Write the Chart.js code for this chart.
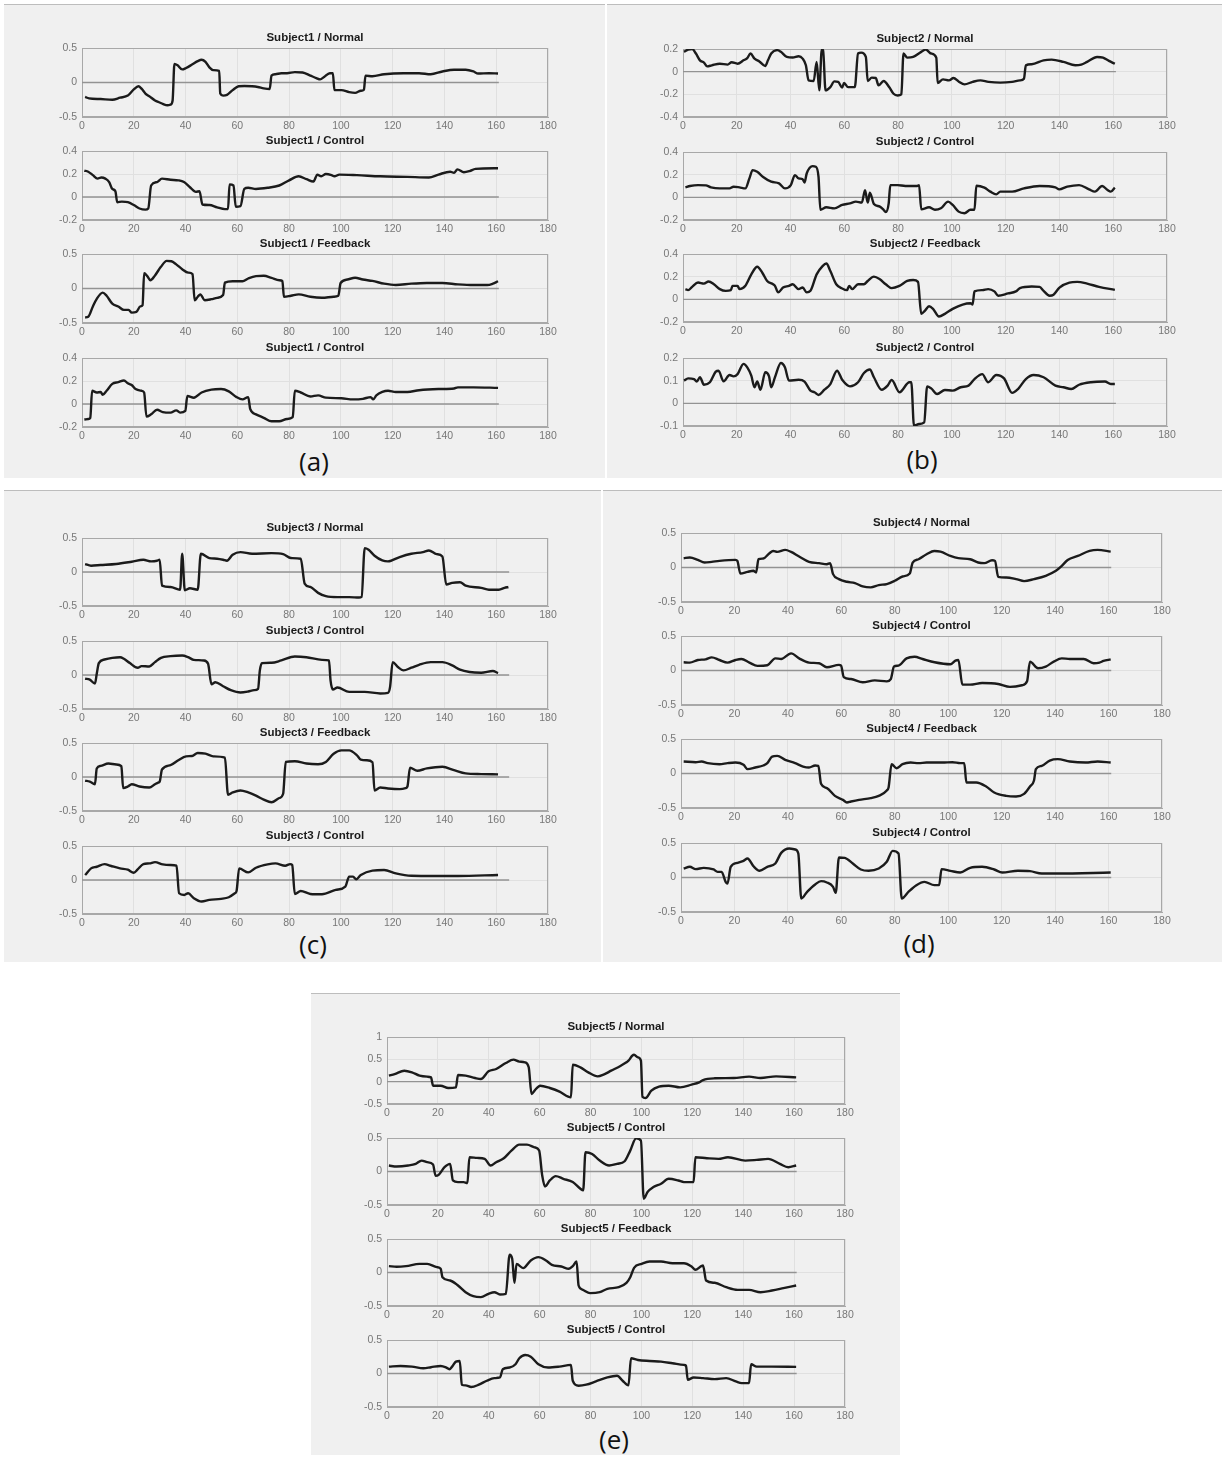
<!DOCTYPE html>
<html>
<head>
<meta charset="utf-8">
<script src="https://cdn.jsdelivr.net/npm/chart.js@4.4.1/dist/chart.umd.min.js"></script>
<style>
  body { margin: 0; width: 1225px; height: 1458px; background: #fff; position: relative; overflow: hidden; }
  .panel { position: absolute; background: #f0f0f0; border-top: 1px solid #bdbdbd; box-sizing: border-box; }
  .plab { position: absolute; font-family: 'Open Sans', sans-serif; font-size: 26px; color: #111; line-height: 1; transform: translate(-50%, -50%); }
  canvas { position: absolute; }
</style>
</head>
<body>
<script>
// tick values
var xTickValues = [0, 20, 40, 60, 80, 100, 120, 140, 160, 180];
var yTicksHalf = [-0.5, 0, 0.5];
var yTicksFifth = [-0.2, 0, 0.2, 0.4];
var yTicksS2Normal = [-0.4, -0.2, 0, 0.2];
var yTicksTenth = [-0.1, 0, 0.1, 0.2];
var yTicksS5Normal = [-0.5, 0, 0.5, 1];

// series, [sample, value]
var s1Normal = [[1.2,-0.21],[2.7,-0.23],[7.2,-0.24],[11.7,-0.25],[14.7,-0.22],[17.7,-0.19],[20,-0.1],[21.8,-0.055],[23,-0.09],[24.5,-0.16],[26,-0.2],[28.2,-0.26],[30,-0.29],[31.2,-0.31],[33,-0.33],[34.2,-0.32],[35,-0.26],[35.7,0.27],[36.9,0.25],[38.7,0.19],[40.2,0.21],[42.5,0.26],[44.7,0.31],[46.2,0.33],[47.7,0.3],[49.2,0.22],[50.7,0.18],[53,0.17],[53.4,-0.16],[54.5,-0.19],[56,-0.18],[58.2,-0.11],[60.5,-0.055],[62.7,-0.05],[65.7,-0.055],[67.9,-0.065],[70.2,-0.085],[72.5,-0.095],[73.2,0.1],[74.7,0.12],[77,0.135],[79.2,0.135],[82.2,0.15],[85.2,0.145],[88.2,0.1],[90.5,0.065],[92,0.045],[93.5,0.08],[95.7,0.135],[96.9,0.135],[97.5,-0.11],[100.2,-0.11],[103.2,-0.14],[105.5,-0.15],[107.7,-0.12],[108.9,-0.105],[109.5,0.1],[112.2,0.09],[116.7,0.12],[124.2,0.135],[130.2,0.135],[134.7,0.12],[139.2,0.16],[143.7,0.185],[148.2,0.185],[151.2,0.16],[153,0.13],[157.2,0.135],[160.7,0.13]];
var s1Control = [[0.9,0.23],[2.4,0.22],[4.2,0.19],[6,0.16],[7.5,0.17],[9,0.16],[10.5,0.13],[11.7,0.07],[12.9,0.05],[13.6,-0.045],[15.4,-0.04],[17.7,-0.045],[20,-0.07],[22.2,-0.1],[24.5,-0.11],[25.6,-0.1],[26.7,0.1],[29,0.13],[30.9,0.16],[34.2,0.15],[37.2,0.145],[39.4,0.13],[41.7,0.085],[44,0.045],[45.4,0.05],[46.5,-0.065],[49.2,-0.07],[52.2,-0.09],[55.2,-0.105],[56.4,-0.105],[57,0.11],[58.5,0.1],[59.4,-0.085],[61.2,-0.08],[62.7,0.07],[64.2,0.08],[67.2,0.07],[71.7,0.08],[76.2,0.1],[80,0.145],[83.7,0.18],[86.7,0.155],[89.4,0.135],[90.9,0.195],[92.4,0.18],[94.2,0.2],[96.4,0.19],[97.5,0.18],[99.4,0.195],[106.2,0.19],[115.2,0.18],[125.7,0.175],[134,0.17],[137.7,0.195],[142.2,0.22],[143.7,0.21],[145,0.24],[147.5,0.215],[149.7,0.225],[152,0.245],[160.7,0.25]];
var s1Feedback = [[1.2,-0.42],[2.4,-0.41],[4.2,-0.26],[5.7,-0.15],[8,-0.06],[9.5,-0.105],[11.7,-0.22],[14,-0.26],[16.2,-0.31],[18,-0.31],[19.2,-0.35],[21,-0.34],[22.5,-0.26],[23.4,-0.24],[24,0.22],[25.2,0.18],[26.4,0.12],[28.2,0.19],[30.4,0.31],[32.7,0.4],[34.5,0.395],[36.4,0.35],[38.7,0.28],[41,0.23],[42.7,0.21],[43.5,-0.17],[44.7,-0.12],[45.7,-0.085],[47.4,-0.17],[50,-0.155],[52.2,-0.135],[54.5,-0.095],[55.2,0.085],[58.2,0.105],[62,0.105],[64.2,0.145],[67.2,0.18],[70.2,0.185],[73.2,0.155],[76.2,0.12],[77.4,0.11],[78,-0.12],[80.7,-0.105],[83.7,-0.085],[88.2,-0.12],[92.7,-0.135],[97.2,-0.12],[99,-0.105],[99.9,0.08],[102.5,0.13],[105.5,0.155],[108.5,0.13],[112.2,0.11],[116.7,0.07],[121.2,0.05],[127.2,0.07],[133.2,0.08],[139.2,0.08],[145.2,0.06],[151.2,0.05],[156.5,0.05],[158.7,0.07],[160.7,0.105]];
var s1Control2 = [[0.9,-0.135],[2.4,-0.13],[3.2,-0.12],[3.9,0.115],[5.7,0.1],[7.2,0.105],[8,0.08],[9.5,0.115],[11.7,0.175],[14,0.19],[16.2,0.205],[17.7,0.18],[19.2,0.165],[20.7,0.13],[23,0.115],[24,0.1],[24.9,-0.11],[26.7,-0.09],[29,-0.05],[31.2,-0.07],[34.2,-0.075],[36.4,-0.055],[37.9,-0.075],[39.9,-0.06],[40.7,0.07],[43.2,0.055],[46.2,0.1],[50,0.125],[53.7,0.13],[56.7,0.11],[59.7,0.06],[62,0.04],[64.2,0.06],[65,-0.045],[67.2,-0.09],[70.2,-0.12],[73.2,-0.15],[76.2,-0.15],[79.2,-0.13],[81.4,-0.115],[82.2,0.115],[84.5,0.1],[88.2,0.065],[91.2,0.075],[94.2,0.055],[100.2,0.05],[104.7,0.04],[108.5,0.045],[111.5,0.06],[112.5,0.04],[113.7,0.075],[116,0.105],[118.2,0.115],[121.2,0.105],[125.7,0.105],[130.2,0.12],[137.7,0.13],[143.7,0.135],[145.2,0.145],[151.2,0.145],[160.7,0.14]];

var s2Normal = [[0.4,0.175],[1.9,0.195],[3.4,0.2],[4.8,0.16],[6.3,0.1],[7.8,0.08],[9,0.047],[10.7,0.056],[13.7,0.07],[16.6,0.062],[18.1,0.083],[20.3,0.07],[22.5,0.1],[23.9,0.12],[25.1,0.16],[26.6,0.115],[28.4,0.09],[30.6,0.05],[31.6,0.1],[32.8,0.16],[35,0.19],[36.4,0.175],[38.6,0.13],[40.8,0.125],[43,0.136],[44.5,0.115],[45.7,0.056],[46.7,-0.077],[48.6,-0.083],[49.7,0.086],[50.7,-0.165],[51.6,0.195],[52.1,0.19],[53,-0.165],[54.8,-0.136],[56.3,-0.086],[57.7,-0.09],[59.2,-0.14],[59.9,-0.1],[61.4,-0.136],[63.9,-0.136],[65.1,0.16],[66.3,0.168],[68,0.13],[68.7,-0.083],[70.2,-0.053],[71.7,-0.056],[72.7,-0.12],[74.6,-0.083],[76.8,-0.14],[78.3,-0.195],[79.8,-0.21],[81.2,-0.2],[82,0.16],[83.4,0.124],[85.6,0.13],[88.6,0.175],[90.3,0.195],[92.3,0.16],[94.2,0.124],[94.7,-0.1],[96.7,-0.068],[98.9,-0.077],[100.6,-0.056],[102.5,-0.086],[104.7,-0.112],[107.7,-0.09],[110.6,-0.077],[113.6,-0.09],[118,-0.097],[122.4,-0.09],[125.3,-0.077],[126.8,-0.062],[127.5,0.056],[129.7,0.065],[134.1,0.1],[137.1,0.106],[141.5,0.086],[145.9,0.056],[148.1,0.062],[150.3,0.086],[154,0.13],[156.2,0.124],[158.4,0.095],[160.6,0.07]];
var s2Control = [[0.9,0.088],[2.6,0.1],[5.6,0.108],[8.5,0.105],[10.4,0.088],[13.7,0.079],[17.3,0.079],[18.8,0.094],[21,0.088],[23.2,0.079],[24.7,0.167],[25.9,0.24],[27.6,0.225],[29.8,0.18],[32.8,0.138],[35.7,0.123],[37.9,0.079],[40.1,0.108],[41.6,0.196],[43,0.167],[44.5,0.16],[45.2,0.13],[46,0.21],[48.2,0.275],[49.4,0.27],[50.4,0.18],[51.1,-0.11],[53.3,-0.088],[56.3,-0.097],[59.2,-0.067],[62.1,-0.053],[64.3,-0.038],[66.5,-0.047],[67.7,0.064],[68.7,-0.047],[69.5,0.04],[71,-0.058],[73.2,-0.082],[74.6,-0.11],[75.4,-0.13],[76.5,-0.053],[77.1,0.108],[79.8,0.108],[82.7,0.1],[87.1,0.1],[87.8,0.108],[88.6,-0.105],[91.5,-0.088],[93.7,-0.11],[95.9,-0.097],[98.6,-0.038],[100.3,-0.067],[102.5,-0.126],[104.7,-0.14],[106.9,-0.11],[108.4,-0.11],[109.1,0.102],[112.1,0.085],[114.3,0.05],[116.5,0.026],[118,0.05],[122.4,0.05],[126.8,0.079],[132.6,0.1],[138.5,0.088],[139.9,0.07],[142.9,0.094],[147.3,0.108],[151,0.07],[153.2,0.05],[155.9,0.1],[157.9,0.064],[159.1,0.05],[160.6,0.085]];
var s2Feedback = [[0.9,0.09],[1.9,0.081],[3.4,0.11],[5.6,0.148],[7.8,0.139],[9.5,0.157],[11.5,0.133],[13.7,0.09],[15.9,0.075],[17.8,0.081],[18.4,0.119],[20.3,0.119],[21,0.09],[23.2,0.119],[25.4,0.22],[27.6,0.287],[29.5,0.235],[31.3,0.162],[33.5,0.133],[34.2,0.119],[35.4,0.061],[37.2,0.104],[39.4,0.119],[40.8,0.133],[43,0.09],[44.5,0.104],[46,0.061],[47.4,0.075],[49.7,0.22],[51.9,0.293],[53.3,0.316],[54.8,0.25],[57,0.133],[59.2,0.096],[61,0.081],[61.8,0.119],[62.9,0.09],[65.1,0.133],[67.3,0.133],[68.7,0.162],[71,0.2],[73.2,0.177],[75.4,0.133],[77.6,0.099],[80.5,0.119],[83.4,0.162],[85.6,0.171],[87.4,0.154],[88.6,-0.128],[90,-0.099],[91.5,-0.061],[93,-0.084],[95.2,-0.151],[97.4,-0.128],[100.3,-0.084],[104,-0.046],[106.9,-0.035],[107.7,-0.046],[108.4,0.07],[111.3,0.081],[113.5,0.09],[115.8,0.07],[117.2,0.032],[120.9,0.052],[123.8,0.07],[125.3,0.099],[129.7,0.113],[132.6,0.11],[134.1,0.075],[136.3,0.032],[137.8,0.041],[140,0.104],[143.7,0.148],[146.6,0.154],[150.3,0.139],[154.7,0.11],[160.6,0.084]];
var s2Control2 = [[0.4,0.1],[1.9,0.11],[4.1,0.107],[5.1,0.096],[6.3,0.115],[7.8,0.082],[10,0.093],[12.2,0.14],[13.2,0.144],[15.1,0.097],[17.3,0.125],[18.8,0.119],[20.3,0.129],[22.5,0.174],[23.9,0.159],[25.4,0.122],[26.6,0.071],[27.6,0.096],[28.8,0.06],[30.6,0.137],[32,0.119],[32.8,0.071],[34.2,0.115],[36.4,0.178],[37.9,0.159],[39.4,0.1],[43,0.104],[45.2,0.096],[47.4,0.056],[48.9,0.049],[50.4,0.037],[52.6,0.06],[54.8,0.085],[57.3,0.144],[59.2,0.104],[62.1,0.075],[65.1,0.093],[67.3,0.134],[69.5,0.149],[71,0.115],[73.9,0.06],[76.1,0.078],[77.6,0.103],[80.5,0.049],[84.2,0.093],[84.9,0.093],[85.9,-0.099],[87.8,-0.091],[89.7,-0.084],[90.8,0.075],[92.3,0.066],[94.5,0.041],[97.4,0.059],[100.3,0.056],[103.3,0.071],[106.2,0.078],[108.4,0.107],[111.3,0.129],[113.5,0.093],[116.5,0.125],[119.4,0.11],[122.4,0.046],[124.6,0.063],[127.5,0.107],[130.4,0.125],[134.1,0.115],[138.5,0.078],[141.5,0.071],[144.4,0.063],[147.3,0.082],[151.7,0.093],[156.9,0.096],[159.1,0.085],[160.6,0.085]];

var s3Normal = [[1.2,0.117],[3.5,0.093],[7.2,0.102],[13.2,0.117],[19.2,0.151],[23.7,0.18],[26.7,0.156],[29,0.166],[30,0.18],[30.9,-0.2],[34.2,-0.22],[37.9,-0.26],[38.7,0.268],[39.7,-0.268],[41.7,-0.24],[44.7,-0.26],[45.9,0.268],[49.2,0.205],[52.2,0.195],[54.5,0.18],[56,0.166],[58.2,0.254],[61.2,0.293],[65.7,0.268],[73.2,0.278],[77.7,0.263],[80.7,0.205],[84.5,0.195],[86,-0.17],[88.2,-0.22],[91.2,-0.307],[94.2,-0.356],[98.7,-0.37],[103.2,-0.37],[107,-0.376],[108,-0.366],[109.2,0.351],[110.7,0.327],[113,0.239],[116,0.17],[118.2,0.156],[122.7,0.22],[127.2,0.268],[131.7,0.293],[134,0.317],[137,0.263],[139.2,0.229],[140.7,-0.185],[143,-0.16],[146,-0.151],[148.2,-0.2],[154.2,-0.234],[157.2,-0.26],[161,-0.26],[163.2,-0.234],[164.7,-0.22]];
var s3Control = [[1.2,-0.053],[3,-0.068],[5,-0.126],[5.7,0.019],[6.5,0.175],[8.7,0.228],[11.7,0.252],[14.7,0.262],[16.2,0.238],[18.5,0.175],[21.5,0.107],[23,0.131],[26,0.126],[28.2,0.189],[30.5,0.252],[34.2,0.277],[38.7,0.286],[41,0.262],[43.2,0.223],[47,0.214],[48.7,0.165],[50,-0.136],[51.5,-0.107],[54.5,-0.165],[57.5,-0.223],[61.2,-0.257],[64.2,-0.243],[66.5,-0.223],[68,-0.204],[68.7,0.068],[69.5,0.175],[73.2,0.18],[77,0.214],[82.2,0.272],[86.7,0.262],[92.7,0.223],[95.4,0.214],[96,-0.078],[96.9,-0.214],[98.7,-0.184],[103.2,-0.248],[109.2,-0.248],[115.2,-0.272],[118.2,-0.262],[119,-0.175],[120,0.189],[122,0.117],[124.2,0.068],[127.2,0.107],[130.2,0.15],[134.7,0.189],[139.2,0.189],[143,0.141],[146,0.078],[149.7,0.044],[154.2,0.034],[158.7,0.058],[160.7,0.029]];
var s3Feedback = [[1.2,-0.053],[3,-0.068],[5,-0.106],[5.7,0.126],[7.2,0.164],[10.2,0.198],[13.2,0.184],[15.2,0.159],[15.9,-0.164],[17.7,-0.14],[19.2,-0.106],[22.2,-0.14],[26,-0.155],[28.2,-0.106],[29.4,-0.082],[30,-0.068],[30.9,0.111],[34.2,0.174],[37.2,0.246],[40.2,0.304],[42.5,0.309],[44.7,0.353],[47.7,0.343],[50.7,0.304],[55.2,0.285],[56.4,-0.261],[58.2,-0.227],[61.2,-0.198],[64.2,-0.227],[67.2,-0.275],[70.2,-0.333],[73.2,-0.372],[76.2,-0.309],[77.7,-0.246],[78.7,0.222],[82.2,0.232],[86.7,0.198],[91.2,0.188],[94.2,0.222],[97.2,0.343],[100.2,0.391],[103.2,0.391],[106.2,0.319],[107.7,0.256],[110,0.246],[112.2,0.217],[113,-0.198],[115.2,-0.155],[118.2,-0.169],[122.7,-0.179],[125,-0.164],[125.7,-0.14],[126.7,0.135],[129.5,0.092],[133.2,0.126],[139.2,0.15],[143.7,0.101],[148.2,0.053],[154.2,0.043],[160.7,0.039]];
var s3Control2 = [[1.2,0.073],[3.5,0.171],[5.7,0.195],[8.7,0.234],[11,0.21],[14.7,0.171],[17.7,0.151],[20,0.107],[21.5,0.156],[23.7,0.234],[26,0.244],[28.2,0.263],[31.2,0.229],[34.2,0.22],[36.5,0.21],[37.5,-0.195],[39.5,-0.22],[41,-0.195],[43.2,-0.268],[46.2,-0.317],[49.2,-0.293],[53.7,-0.278],[56.7,-0.254],[59,-0.195],[59.7,-0.161],[60.7,0.171],[64.2,0.112],[67.2,0.18],[71.7,0.229],[74.7,0.244],[78.5,0.21],[80.4,0.234],[81.2,0.22],[82.2,-0.205],[84.5,-0.161],[88.2,-0.205],[92.7,-0.21],[98,-0.146],[101.7,-0.098],[103.2,0.049],[104.7,0.049],[105.9,0.01],[107.7,0.073],[112.2,0.137],[116.7,0.146],[121.2,0.098],[127.2,0.063],[136.2,0.059],[145.2,0.059],[160.7,0.073]];

var s4Normal = [[1,0.135],[3.3,0.144],[6.3,0.11],[8.8,0.072],[11.5,0.082],[14.4,0.096],[20.4,0.11],[21.1,0.096],[22.2,-0.087],[24.9,-0.063],[27.1,-0.048],[28.1,-0.072],[29,0.12],[30.8,0.13],[33.1,0.207],[34.5,0.24],[36,0.226],[39,0.255],[41.2,0.226],[44.2,0.159],[47.9,0.082],[51.7,0.063],[54.6,0.048],[55.8,0.063],[56.9,-0.096],[59.1,-0.168],[62.1,-0.207],[65.1,-0.226],[68,-0.274],[71,-0.288],[74,-0.255],[77,-0.24],[80,-0.192],[82.9,-0.13],[85.6,-0.087],[86.7,0.072],[88.9,0.12],[91.9,0.192],[94.8,0.24],[97.1,0.23],[100.8,0.168],[103.8,0.135],[108.2,0.12],[111.2,0.072],[113.5,0.063],[116.4,0.106],[117.5,0.096],[118.7,-0.135],[121.7,-0.144],[125.4,-0.168],[128.4,-0.197],[132.1,-0.168],[136.5,-0.12],[140.3,-0.048],[142.5,0.024],[144.7,0.11],[148.5,0.168],[152.9,0.24],[155.9,0.255],[160.8,0.23]];
var s4Control = [[1,0.119],[3.3,0.114],[6.3,0.152],[9.2,0.162],[11.5,0.19],[14.4,0.152],[17.4,0.114],[20.4,0.152],[22.6,0.167],[25.6,0.114],[28.6,0.067],[32.3,0.076],[35.3,0.176],[37.5,0.167],[41.2,0.248],[44.2,0.176],[47.9,0.114],[51.7,0.105],[54.6,0.048],[59.1,0.081],[59.9,0.071],[60.9,-0.095],[63.6,-0.124],[68,-0.171],[72.5,-0.143],[77,-0.157],[78.5,-0.124],[79.7,0.057],[81.4,0.071],[84.4,0.176],[87.4,0.2],[90.4,0.167],[94.9,0.119],[100.8,0.09],[102.7,0.143],[103.8,0.152],[105.3,-0.205],[108.2,-0.205],[112.7,-0.181],[118.7,-0.195],[123.1,-0.238],[127.6,-0.214],[129.5,-0.157],[130.6,0.129],[133.6,0.033],[136.5,0.057],[139.5,0.129],[142.5,0.176],[145.5,0.167],[150.7,0.167],[154.4,0.105],[156.6,0.114],[158.1,0.138],[160.8,0.162]];
var s4Feedback = [[1,0.174],[5.5,0.164],[7.7,0.174],[10,0.15],[14.4,0.135],[17.4,0.15],[20.4,0.159],[23.4,0.126],[24.9,0.063],[27.8,0.087],[30.8,0.116],[32.3,0.15],[34.1,0.246],[36,0.256],[39,0.198],[42.7,0.15],[45.7,0.101],[47.9,0.087],[50.2,0.116],[51.4,0.111],[52.4,-0.15],[54.6,-0.213],[57.6,-0.324],[60.6,-0.382],[62.1,-0.42],[63.6,-0.406],[66.6,-0.382],[71,-0.357],[74,-0.324],[77,-0.246],[77.7,-0.198],[78.8,0.135],[80.7,0.077],[82.9,0.135],[85.9,0.159],[88.9,0.15],[91.9,0.159],[97.8,0.159],[101.6,0.164],[104.5,0.15],[106,0.15],[106.8,-0.13],[110.5,-0.13],[114.2,-0.188],[117.2,-0.275],[121.7,-0.324],[125.4,-0.333],[128.4,-0.295],[130.6,-0.188],[132.1,-0.101],[132.8,0.063],[135,0.111],[138,0.188],[141,0.208],[145.5,0.174],[151.4,0.159],[155.9,0.174],[160.8,0.159]];
var s4Control2 = [[1,0.13],[3.3,0.155],[5.5,0.121],[8.5,0.14],[12.2,0.116],[13.7,0.082],[15.2,0.082],[16.7,-0.063],[17.4,-0.087],[18.6,0.155],[21.1,0.213],[23.4,0.242],[24.9,0.275],[27.1,0.164],[29.4,0.097],[32.3,0.155],[35.3,0.203],[37.5,0.357],[40.5,0.42],[42.7,0.406],[43.9,0.348],[45,-0.304],[47.2,-0.208],[50.2,-0.101],[52.4,-0.053],[54.6,-0.072],[56.9,-0.135],[57.9,-0.222],[59.1,0.29],[61.3,0.285],[64.3,0.203],[67.3,0.116],[70.2,0.097],[74,0.13],[77,0.227],[79.2,0.386],[81.4,0.348],[82.6,-0.304],[85.1,-0.208],[88.1,-0.111],[91.1,-0.063],[94.8,-0.111],[96.6,-0.111],[97.5,0.121],[100.8,0.097],[104.5,0.072],[108.2,0.14],[112.7,0.155],[117.2,0.116],[120.2,0.072],[126.1,0.097],[130.6,0.092],[135,0.058],[141,0.058],[160.8,0.072]];

var s5Normal = [[0.75,0.134],[3,0.17],[6.8,0.246],[9.8,0.209],[12.8,0.134],[15.8,0.112],[17.3,0.097],[18.1,-0.09],[21.1,-0.09],[24.1,-0.142],[27.1,-0.127],[27.9,0.149],[30.9,0.134],[34.6,0.082],[36.9,0.06],[39.9,0.231],[42.9,0.284],[46.7,0.418],[49.7,0.493],[52,0.448],[54.2,0.433],[55.7,0.321],[56.8,-0.276],[58,-0.2],[60.2,-0.09],[64,-0.142],[67.8,-0.224],[71.2,-0.336],[72.3,-0.35],[73,0.38],[76,0.321],[79.1,0.209],[82.8,0.119],[85.1,0.157],[88.1,0.246],[91.9,0.358],[94.1,0.433],[94.9,0.47],[96.4,0.582],[97.1,0.604],[98.6,0.545],[99.8,0.47],[100.4,-0.336],[101.6,-0.366],[103.9,-0.2],[106.9,-0.112],[110.7,-0.09],[115.2,-0.127],[119.7,-0.067],[122.7,-0.015],[124.2,0.037],[128.8,0.075],[136.3,0.082],[142.3,0.112],[146.8,0.082],[152.9,0.119],[160.8,0.097]];
var s5Control = [[0.75,0.089],[3.8,0.074],[8.3,0.089],[11.3,0.114],[13.6,0.163],[15.8,0.139],[18.1,0.104],[19.1,-0.064],[20.3,-0.05],[22.6,0.064],[24.8,0.114],[25.9,-0.134],[27.9,-0.158],[30.1,-0.158],[31.6,-0.173],[32.4,0.213],[35.4,0.203],[38.4,0.188],[40.7,0.089],[42.9,0.139],[45.9,0.198],[48.9,0.312],[52,0.401],[55,0.401],[58,0.361],[59.8,0.312],[61,-0.059],[62.1,-0.223],[64,-0.134],[66.3,-0.069],[69.3,-0.109],[73,-0.158],[76,-0.257],[77.1,-0.282],[78,0.287],[80.6,0.262],[83.6,0.163],[87.3,0.089],[90.4,0.114],[93.4,0.153],[95.6,0.312],[97.9,0.495],[99.8,0.46],[100.9,-0.406],[102.4,-0.307],[104.7,-0.233],[107.7,-0.183],[110.7,-0.109],[114.5,-0.134],[116.7,-0.158],[120.5,-0.158],[121.2,0.213],[125.7,0.198],[130.3,0.188],[134,0.213],[140.8,0.163],[145.3,0.173],[149.8,0.188],[154.4,0.114],[157.7,0.064],[160.8,0.089]];
var s5Feedback = [[0.75,0.095],[3.8,0.085],[7.5,0.095],[12.8,0.129],[15.8,0.129],[19.6,0.08],[21.1,0.055],[21.8,-0.07],[24.8,-0.119],[27.9,-0.194],[30.9,-0.294],[33.9,-0.353],[36.9,-0.368],[39.9,-0.318],[42.2,-0.294],[44.4,-0.328],[46.7,-0.318],[48.2,0.264],[49.2,0.204],[50.1,-0.154],[50.9,0.129],[53.5,0.065],[56.5,0.179],[59.5,0.229],[62.5,0.179],[64.8,0.114],[68.5,0.09],[71.5,0.055],[73,0.095],[74.5,0.164],[75.3,-0.194],[76.8,-0.254],[79.8,-0.308],[83.6,-0.294],[86.6,-0.244],[91.1,-0.219],[94.1,-0.154],[95.6,-0.07],[97.1,0.07],[100.1,0.129],[103.2,0.164],[107.7,0.164],[112.2,0.139],[116.7,0.139],[119.7,0.09],[121.2,0.04],[123.5,0.095],[124.2,0.104],[125.4,-0.119],[128.8,-0.154],[133.3,-0.219],[137.8,-0.259],[142.3,-0.259],[146.8,-0.294],[151.3,-0.269],[155.8,-0.234],[160.8,-0.194]];
var s5Control2 = [[0.75,0.103],[5.3,0.113],[9.8,0.103],[14.3,0.079],[17.3,0.094],[21.1,0.113],[23.3,0.089],[24.5,0.064],[25.6,0.103],[27.1,0.177],[28.6,0.187],[29.4,-0.167],[30.9,-0.177],[33.1,-0.202],[36.1,-0.167],[39.2,-0.108],[42.2,-0.069],[44.4,-0.059],[45.5,0.064],[48.2,0.089],[50.5,0.138],[52,0.227],[54.3,0.276],[56.5,0.251],[59.5,0.138],[63.3,0.089],[67.8,0.103],[72.3,0.128],[73,-0.108],[75.3,-0.182],[78.3,-0.167],[82.1,-0.118],[86.6,-0.059],[90.4,-0.034],[92.6,-0.108],[94.9,-0.177],[95.9,0.227],[98.6,0.202],[103.2,0.187],[107.7,0.177],[112.2,0.153],[116.7,0.128],[117.5,0.118],[118.2,-0.094],[120.5,-0.059],[124.2,-0.069],[128.8,-0.084],[133.3,-0.069],[137.1,-0.118],[139.4,-0.143],[142.3,-0.143],[143.1,0.138],[145.3,0.103],[151.3,0.103],[160.8,0.099]];

// where the 4-subplot panels sit on the page
var panels = [
  { name: '(a)', box: [4, 4, 601, 474], left: 82, width: 466, height: 69, tops: [48, 151, 254, 358], label: [314, 461] },
  { name: '(b)', box: [607, 4, 615, 474], left: 683, width: 484, height: 68, tops: [49, 152, 254, 358], label: [922, 459] },
  { name: '(c)', box: [4, 490, 597, 472], left: 82, width: 466, height: 68, tops: [538, 641, 743, 846], label: [313, 944] },
  { name: '(d)', box: [603, 490, 619, 472], left: 681, width: 481, height: 69, tops: [533, 636, 739, 843], label: [919, 943] },
  { name: '(e)', box: [311, 993, 589, 462], left: 387, width: 458, height: 67, tops: [1037, 1138, 1239, 1340], label: [614, 1439] }
];

var subplots = [
  [ { title: 'Subject1 / Normal', data: s1Normal, yTicks: yTicksHalf, zeroEnd: 161 },
    { title: 'Subject1 / Control', data: s1Control, yTicks: yTicksFifth, zeroEnd: 161 },
    { title: 'Subject1 / Feedback', data: s1Feedback, yTicks: yTicksHalf, zeroEnd: 161 },
    { title: 'Subject1 / Control', data: s1Control2, yTicks: yTicksFifth, zeroEnd: 161 } ],
  [ { title: 'Subject2 / Normal', data: s2Normal, yTicks: yTicksS2Normal, zeroEnd: 161 },
    { title: 'Subject2 / Control', data: s2Control, yTicks: yTicksFifth, zeroEnd: 161 },
    { title: 'Subject2 / Feedback', data: s2Feedback, yTicks: yTicksFifth, zeroEnd: 161 },
    { title: 'Subject2 / Control', data: s2Control2, yTicks: yTicksTenth, zeroEnd: 161 } ],
  [ { title: 'Subject3 / Normal', data: s3Normal, yTicks: yTicksHalf, zeroEnd: 165 },
    { title: 'Subject3 / Control', data: s3Control, yTicks: yTicksHalf, zeroEnd: 165 },
    { title: 'Subject3 / Feedback', data: s3Feedback, yTicks: yTicksHalf, zeroEnd: 165 },
    { title: 'Subject3 / Control', data: s3Control2, yTicks: yTicksHalf, zeroEnd: 165 } ],
  [ { title: 'Subject4 / Normal', data: s4Normal, yTicks: yTicksHalf, zeroEnd: 161 },
    { title: 'Subject4 / Control', data: s4Control, yTicks: yTicksHalf, zeroEnd: 161 },
    { title: 'Subject4 / Feedback', data: s4Feedback, yTicks: yTicksHalf, zeroEnd: 161 },
    { title: 'Subject4 / Control', data: s4Control2, yTicks: yTicksHalf, zeroEnd: 161 } ],
  [ { title: 'Subject5 / Normal', data: s5Normal, yTicks: yTicksS5Normal, zeroEnd: 161 },
    { title: 'Subject5 / Control', data: s5Control, yTicks: yTicksHalf, zeroEnd: 161 },
    { title: 'Subject5 / Feedback', data: s5Feedback, yTicks: yTicksHalf, zeroEnd: 161 },
    { title: 'Subject5 / Control', data: s5Control2, yTicks: yTicksHalf, zeroEnd: 161 } ]
];

var AXIS_W = 40;   // room for y tick labels
var TITLE_H = 20;  // 3 + 14 + 3
var XAXIS_H = 16;
var tickFont = { family: 'Liberation Sans', size: 10.5 };
var tickColor = '#777777';
var gridColor = '#e0e0e0';
var boxColor = '#a8a8a8';

// MATLAB style closed box around the axes
var boxPlugin = {
  id: 'axesBox',
  beforeDatasetsDraw: function(chart) {
    var a = chart.chartArea, c = chart.ctx;
    c.save();
    c.strokeStyle = boxColor;
    c.lineWidth = 1;
    c.strokeRect(Math.round(a.left) + 0.5, Math.round(a.top) + 0.5, Math.round(a.width) - 1, Math.round(a.height) - 1);
    c.restore();
  }
};

function fmt(v) {
  return String(Math.round(v * 100) / 100);
}

function makeChart(pn, sp, row) {
  var w = AXIS_W + pn.width + AXIS_W;
  var h = TITLE_H + pn.height + XAXIS_H;
  var canvas = document.createElement('canvas');
  canvas.width = w;
  canvas.height = h;
  canvas.style.width = w + 'px';
  canvas.style.height = h + 'px';
  document.body.appendChild(canvas);

  var yt = sp.yTicks;
  var chart = new Chart(canvas.getContext('2d'), {
    type: 'line',
    data: {
      datasets: [
        {
          data: sp.data.map(function(p) { return { x: p[0], y: p[1] }; }),
          borderColor: '#1b1b1b',
          borderWidth: 2.4,
          cubicInterpolationMode: 'monotone',
          borderJoinStyle: 'round',
          pointRadius: 0,
          fill: false
        },
        {
          // reference line at zero
          data: [{ x: 0, y: 0 }, { x: sp.zeroEnd, y: 0 }],
          borderColor: '#939393',
          borderWidth: 1.4,
          pointRadius: 0,
          fill: false
        }
      ]
    },
    options: {
      responsive: false,
      animation: false,
      events: [],
      layout: { padding: { left: 0, right: AXIS_W, top: 0, bottom: 0 } },
      plugins: {
        legend: { display: false },
        tooltip: { enabled: false },
        title: {
          display: true,
          text: sp.title,
          fullSize: false,
          color: '#1a1a1a',
          font: { family: 'Liberation Sans', size: 11.5, weight: 'bold', lineHeight: '14px' },
          padding: { top: 3, bottom: 3 }
        }
      },
      scales: {
        x: {
          type: 'linear',
          min: 0,
          max: 180,
          afterBuildTicks: function(s) { s.ticks = xTickValues.map(function(v) { return { value: v }; }); },
          afterFit: function(s) { s.height = XAXIS_H; },
          ticks: { autoSkip: false, maxRotation: 0, padding: 3, color: tickColor, font: tickFont, callback: fmt },
          grid: { color: gridColor, drawTicks: false },
          border: { display: true, color: boxColor }
        },
        y: {
          type: 'linear',
          min: yt[0],
          max: yt[yt.length - 1],
          afterBuildTicks: function(s) { s.ticks = yt.map(function(v) { return { value: v }; }); },
          afterFit: function(s) { s.width = AXIS_W; },
          ticks: { autoSkip: false, padding: 5, color: tickColor, font: tickFont, callback: fmt },
          grid: { color: gridColor, drawTicks: false },
          border: { display: true, color: boxColor }
        }
      }
    },
    plugins: [boxPlugin]
  });

  canvas.style.left = (pn.left - chart.chartArea.left) + 'px';
  canvas.style.top = (pn.tops[row] - chart.chartArea.top) + 'px';
}

panels.forEach(function(pn, i) {
  var box = document.createElement('div');
  box.className = 'panel';
  box.style.left = pn.box[0] + 'px';
  box.style.top = pn.box[1] + 'px';
  box.style.width = pn.box[2] + 'px';
  box.style.height = pn.box[3] + 'px';
  document.body.appendChild(box);

  var lab = document.createElement('div');
  lab.className = 'plab';
  lab.textContent = pn.name;
  lab.style.left = pn.label[0] + 'px';
  lab.style.top = pn.label[1] + 'px';
  document.body.appendChild(lab);

  subplots[i].forEach(function(sp, row) {
    makeChart(pn, sp, row);
  });
});
</script>
</body>
</html>
